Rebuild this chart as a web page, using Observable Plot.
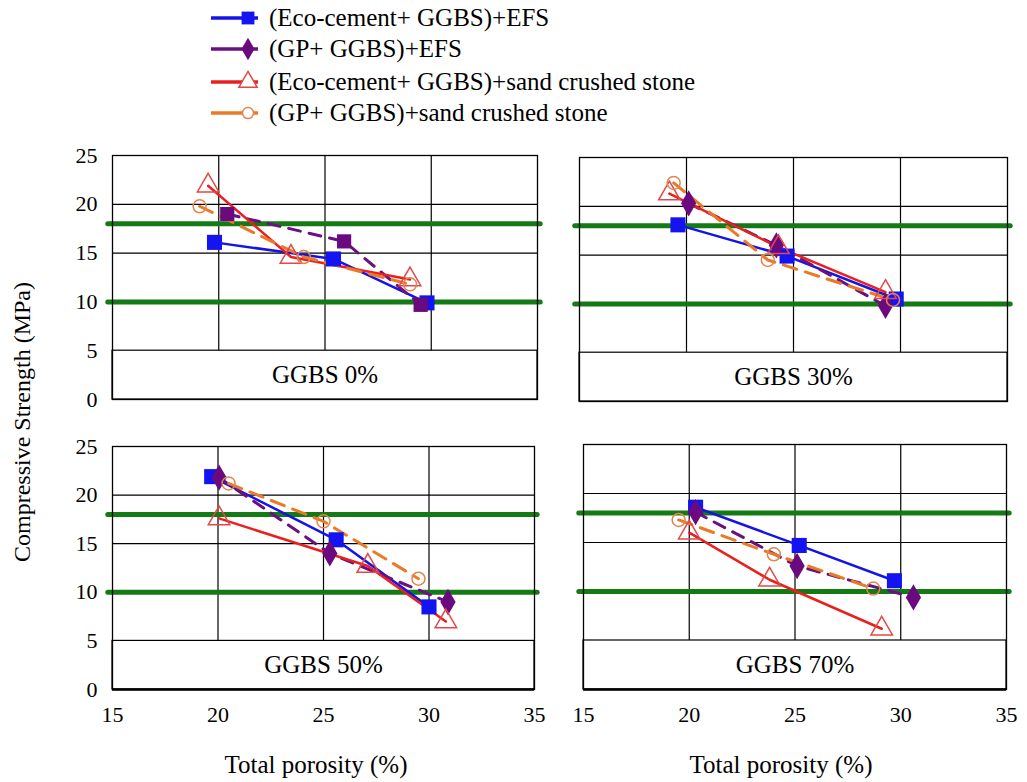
<!DOCTYPE html>
<html><head><meta charset="utf-8">
<script src="https://cdn.jsdelivr.net/npm/d3@7"></script>
<script src="https://cdn.jsdelivr.net/npm/@observablehq/plot@0.6"></script>
<style>
body{margin:0;background:#fff;font-family:"Liberation Serif","Times New Roman",Times,"DejaVu Serif",serif;}
#root{position:relative;width:1027px;height:782px;overflow:hidden;}
.abs{position:absolute;}
.leg{position:absolute;left:208px;height:30px;display:flex;align-items:center;font-size:25px;color:#000;white-space:nowrap;}
.leg svg{margin-right:7px;}
</style></head><body><div id="root"></div>
<script>
// ---------- data ----------
const panelLabels = ["GGBS 0%", "GGBS 30%", "GGBS 50%", "GGBS 70%"];
const seriesNames = [
  "(Eco-cement+ GGBS)+EFS",
  "(GP+ GGBS)+EFS",
  "(Eco-cement+ GGBS)+sand crushed stone",
  "(GP+ GGBS)+sand crushed stone"
];
const xTicks = [15, 20, 25, 30, 35];
const yTicks = [0, 5, 10, 15, 20, 25];
const limitLines = [18, 10];

// porosity (%) and strength (MPa) per panel, three points each
const porosityEcoEFS  = [[19.8, 25.4, 29.8], [19.6, 24.7, 29.8], [19.7, 25.6, 30.0], [20.3, 25.2, 29.7]];
const strengthEcoEFS  = [[16.1, 14.4, 9.9],  [18.1, 14.9, 10.5], [21.9, 15.4, 8.5],  [18.6, 14.7, 11.1]];
const porosityGPEFS   = [[20.4, 25.9, 29.5], [20.1, 24.2, 29.3], [20.05, 25.3, 30.9], [20.3, 25.1, 30.6]];
const strengthGPEFS   = [[19.0, 16.2, 9.7],  [20.3, 16.0, 9.8],  [21.8, 14.0, 9.0],  [18.1, 12.6, 9.4]];
const porosityEcoSand = [[19.5, 23.4, 29.0], [19.2, 24.3, 29.3], [20.05, 27.1, 30.8], [20.0, 23.8, 29.1]];
const strengthEcoSand = [[21.9, 14.6, 12.3], [21.3, 15.8, 11.2], [17.6, 12.7, 7.0],  [16.0, 11.2, 6.2]];
const porosityGPSand  = [[19.1, 24.0, 29.0], [19.4, 23.8, 29.65], [20.5, 25.0, 29.5], [19.5, 24.0, 28.7]];
const strengthGPSand  = [[19.8, 14.6, 11.8], [22.4, 14.5, 10.4], [21.2, 17.3, 11.4], [17.3, 13.8, 10.3]];

// ---------- styles ----------
const FONT = "'Liberation Serif', 'Times New Roman', Times, 'DejaVu Serif', serif";
const seriesStyle = [
  {px: porosityEcoEFS,  py: strengthEcoEFS,  stroke: "#1414e6", width: 2.5, dash: null, symbol: "square", r: 8.5, fill: "#1414f0", mstroke: "none"},
  {px: porosityGPEFS,   py: strengthGPEFS,   stroke: "#6a1080", width: 3, dash: "12,9", symbol: "diamond", r: 8, fill: "#6a0a7e", mstroke: "none"},
  {px: porosityEcoSand, py: strengthEcoSand, stroke: "#e8201e", width: 2.5, dash: null, symbol: "triangle", r: 8, fill: "none", mstroke: "#e24848"},
  {px: porosityGPSand,  py: strengthGPSand,  stroke: "#ea7a26", width: 3, dash: "14,9", symbol: "circle", r: 6.5, fill: "none", mstroke: "#e08650"}
];
// panel frames in page pixels: x0,x1,y0,y1
const geoms = [
  {x0: 112, x1: 537, y0: 155, y1: 399, showY: true,  showX: false},
  {x0: 579, x1: 1007, y0: 157, y1: 401, showY: false, showX: false},
  {x0: 112, x1: 534, y0: 446, y1: 689, showY: true,  showX: true},
  {x0: 583, x1: 1006, y0: 444, y1: 689, showY: false, showX: true}
];

const root = document.getElementById("root");

function makePanel(i) {
  const g = geoms[i];
  const ml = g.showY ? 60 : 10, mr = 14, mt = 10, mb = g.showX ? 50 : 10;
  const width = ml + (g.x1 - g.x0) + mr;
  const height = mt + (g.y1 - g.y0) + mb;
  const marks = [
    Plot.rect([{x1: 15, x2: 35, y1: 0, y2: 5}], {x1: "x1", x2: "x2", y1: "y1", y2: "y2", fill: "white", stroke: "#000", strokeWidth: 1.2}),
    Plot.ruleX([20, 25, 30], {y1: 5, y2: 25, stroke: "#000", strokeWidth: 1.2}),
    Plot.ruleY([10, 15, 20], {x1: 15, x2: 35, stroke: "#000", strokeWidth: 1.2}),
    Plot.ruleY(limitLines, {x1: 14.8, x2: 35.15, stroke: "#147a14", strokeWidth: 5, strokeLinecap: "round"}),
    Plot.frame({stroke: "#000", strokeWidth: 1.3})
  ];
  if (g.showX) marks.push(Plot.ruleY([0], {x1: 15, x2: 35, stroke: "#000", strokeWidth: 2.5}));
  seriesStyle.forEach((s, k) => {
    const pts = s.px[i].map((x, j) => ({x, y: s.py[i][j], series: seriesNames[k]}));
    marks.push(Plot.line(pts, {x: "x", y: "y", stroke: s.stroke, strokeWidth: s.width, strokeDasharray: s.dash}));
  });
  seriesStyle.forEach((s, k) => {
    const pts = s.px[i].map((x, j) => ({x, y: s.py[i][j], series: seriesNames[k]}));
    const sym = (k === 1 && i === 0) ? "square" : s.symbol;
    marks.push(Plot.dot(pts, {x: "x", y: "y", symbol: () => sym, r: s.r, fill: s.fill, stroke: s.mstroke, strokeWidth: 1.5}));
  });
  marks.push(Plot.text([panelLabels[i]], {x: 25, y: 2.5, text: d => d, fontSize: 25, fill: "#000", fontFamily: FONT}));

  const svg = Plot.plot({
    width, height,
    marginLeft: ml, marginRight: mr, marginTop: mt, marginBottom: mb,
    style: {fontFamily: FONT, fontSize: "22px", background: "transparent", overflow: "visible", color: "#000"},
    symbol: {type: "identity"},
    x: {domain: [15, 35], ticks: xTicks, tickSize: 0, tickPadding: 17, label: null, axis: g.showX ? "bottom" : null},
    y: {domain: [0, 25], ticks: yTicks, tickSize: 0, tickPadding: 15, label: null, axis: g.showY ? "left" : null},
    marks
  });
  svg.classList.add("abs");
  svg.style.left = (g.x0 - ml) + "px";
  svg.style.top = (g.y0 - mt) + "px";
  svg.style.fontFamily = FONT;
  root.appendChild(svg);
}
for (let i = 0; i < 4; i++) makePanel(i);

// axis titles
function addText(txt, css) {
  const d = document.createElement("div");
  d.className = "abs";
  d.textContent = txt;
  Object.assign(d.style, css);
  root.appendChild(d);
}
addText("Compressive Strength (MPa)", {left: "22px", top: "422px", fontSize: "24px", transform: "translate(-50%,-50%) rotate(-90deg)", whiteSpace: "nowrap"});
addText("Total porosity (%)", {left: "316px", top: "765px", fontSize: "25px", transform: "translate(-50%,-50%)", whiteSpace: "nowrap"});
addText("Total porosity (%)", {left: "781px", top: "765px", fontSize: "25px", transform: "translate(-50%,-50%)", whiteSpace: "nowrap"});

// legend
const legendTops = [4, 35, 68, 99];
seriesStyle.forEach((s, k) => {
  const row = document.createElement("div");
  row.className = "leg";
  row.style.top = (legendTops[k] - 1) + "px";
  const w = 54, h = 30;
  const ns = "http://www.w3.org/2000/svg";
  const sv = document.createElementNS(ns, "svg");
  sv.setAttribute("width", w); sv.setAttribute("height", h);
  const ln = document.createElementNS(ns, "line");
  ln.setAttribute("x1", 3); ln.setAttribute("x2", 50); ln.setAttribute("y1", 15); ln.setAttribute("y2", 15);
  ln.setAttribute("stroke", s.stroke); ln.setAttribute("stroke-width", 3.5);
  sv.appendChild(ln);
  const symMap = {square: d3.symbolSquare, diamond: d3.symbolDiamond, triangle: d3.symbolTriangle, circle: d3.symbolCircle};
  const p = document.createElementNS(ns, "path");
  p.setAttribute("d", d3.symbol(symMap[s.symbol], Math.PI * (s.r * 0.85) ** 2)());
  p.setAttribute("transform", "translate(40,15)");
  p.setAttribute("fill", s.fill === "none" ? "white" : s.fill);
  p.setAttribute("stroke", s.mstroke);
  p.setAttribute("stroke-width", 1.5);
  sv.appendChild(p);
  row.appendChild(sv);
  const t = document.createElement("span");
  t.textContent = seriesNames[k];
  row.appendChild(t);
  root.appendChild(row);
});
</script></body></html>
